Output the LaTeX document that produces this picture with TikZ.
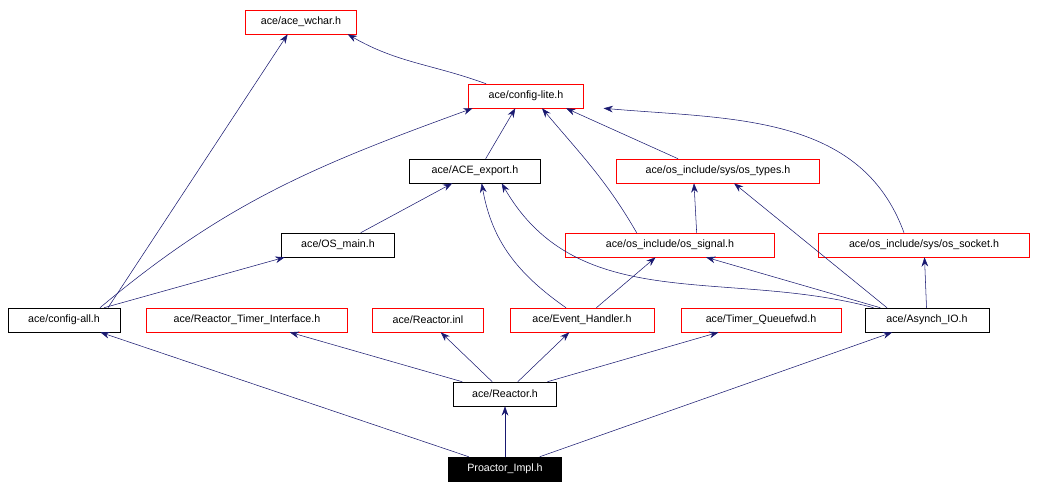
\documentclass[tikz,border=0pt]{standalone}
\usepackage{fontspec}
\setmainfont{Liberation Sans}
\usetikzlibrary{arrows.meta}
\definecolor{edgeblue}{HTML}{191970}
\tikzset{
   hdr/.style={draw, font=\fontsize{8pt}{9.5pt}\selectfont, minimum height=18pt, inner sep=0pt},
   redhdr/.style={hdr, draw=red},
   blkhdr/.style={hdr, draw=black},
   dep/.style={draw=edgeblue, -{Stealth[length=7pt,width=5pt]}, fill=none}
}
\begin{document}
\begin{tikzpicture}[x=0.75pt,y=-0.75pt]
   \useasboundingbox (0,0) rectangle (1038,490);
   % headers
   \node[redhdr, minimum width=83pt] (wchar) at (301,22) {ace/ace\_wchar.h};
   \node[redhdr, minimum width=86pt] (lite) at (526,96) {ace/config-lite.h};
   \node[blkhdr, minimum width=98pt] (export) at (475,171) {ace/ACE\_export.h};
   \node[redhdr, minimum width=152pt] (types) at (718,171) {ace/os\_include/sys/os\_types.h};
   \node[blkhdr, minimum width=85pt] (osmain) at (338,245) {ace/OS\_main.h};
   \node[redhdr, minimum width=157pt] (signal) at (670,245) {ace/os\_include/os\_signal.h};
   \node[redhdr, minimum width=158pt] (socket) at (924,245) {ace/os\_include/sys/os\_socket.h};
   \node[blkhdr, minimum width=84pt] (cfgall) at (64,320) {ace/config-all.h};
   \node[redhdr, minimum width=151pt] (rti) at (247,320) {ace/Reactor\_Timer\_Interface.h};
   \node[redhdr, minimum width=83pt] (inl) at (428,320) {ace/Reactor.inl};
   \node[redhdr, minimum width=108pt] (evh) at (582,320) {ace/Event\_Handler.h};
   \node[redhdr, minimum width=120pt] (tq) at (761,320) {ace/Timer\_Queuefwd.h};
   \node[blkhdr, minimum width=93pt] (aio) at (927,320) {ace/Asynch\_IO.h};
   \node[blkhdr, minimum width=77pt] (reactor) at (505,394) {ace/Reactor.h};
   \node[hdr, fill=black, text=white, minimum width=85pt] (proactor) at (505,469) {Proactor\_Impl.h};
   % includes
   \draw[dep] (proactor) -- (cfgall);
   \draw[dep] (proactor) -- (reactor);
   \draw[dep] (proactor) -- (aio);
   \draw[dep] (reactor) -- (rti);
   \draw[dep] (reactor) -- (inl);
   \draw[dep] (reactor) -- (evh);
   \draw[dep] (reactor) -- (tq);
   \draw[dep] ([xshift=33pt]cfgall.north) -- ([xshift=-10pt]wchar.south);
   \draw[dep] ([xshift=27pt]cfgall.north) to[out=40,in=200] ([xshift=-40pt]lite.south);
   \draw[dep] ([xshift=30pt]cfgall.north) -- ([xshift=-40pt]osmain.south);
   \draw[dep] (osmain) -- (export);
   \draw[dep] ([xshift=8pt]export.north) -- ([xshift=-8pt]lite.south);
   \draw[dep] ([xshift=-30pt]lite.north) to[out=160,in=-30] ([xshift=35pt]wchar.south);
   \draw[dep] ([xshift=-12pt]evh.north) to[out=145,in=-80] ([xshift=5pt]export.south);
   \draw[dep] (evh) -- (signal);
   \draw[dep] ([xshift=-25pt]signal.north) to[out=120,in=-50] ([xshift=12pt]lite.south);
   \draw[dep] ([xshift=20pt]signal.north) -- ([xshift=-18pt]types.south);
   \draw[dep] ([xshift=-30pt]types.north) -- ([xshift=30pt]lite.south);
   \draw[dep] ([xshift=-40pt]aio.north) to[out=165,in=-60] ([xshift=20pt]export.south);
   \draw[dep] ([xshift=-35pt]aio.north) -- ([xshift=27pt]signal.south);
   \draw[dep] ([xshift=-30pt]aio.north) -- ([xshift=12pt]types.south);
   \draw[dep] (aio) -- (socket);
   \draw[dep] ([xshift=-15pt]socket.north) to[out=110,in=-5] ([xshift=15pt]lite.south east);
\end{tikzpicture}
\end{document}
